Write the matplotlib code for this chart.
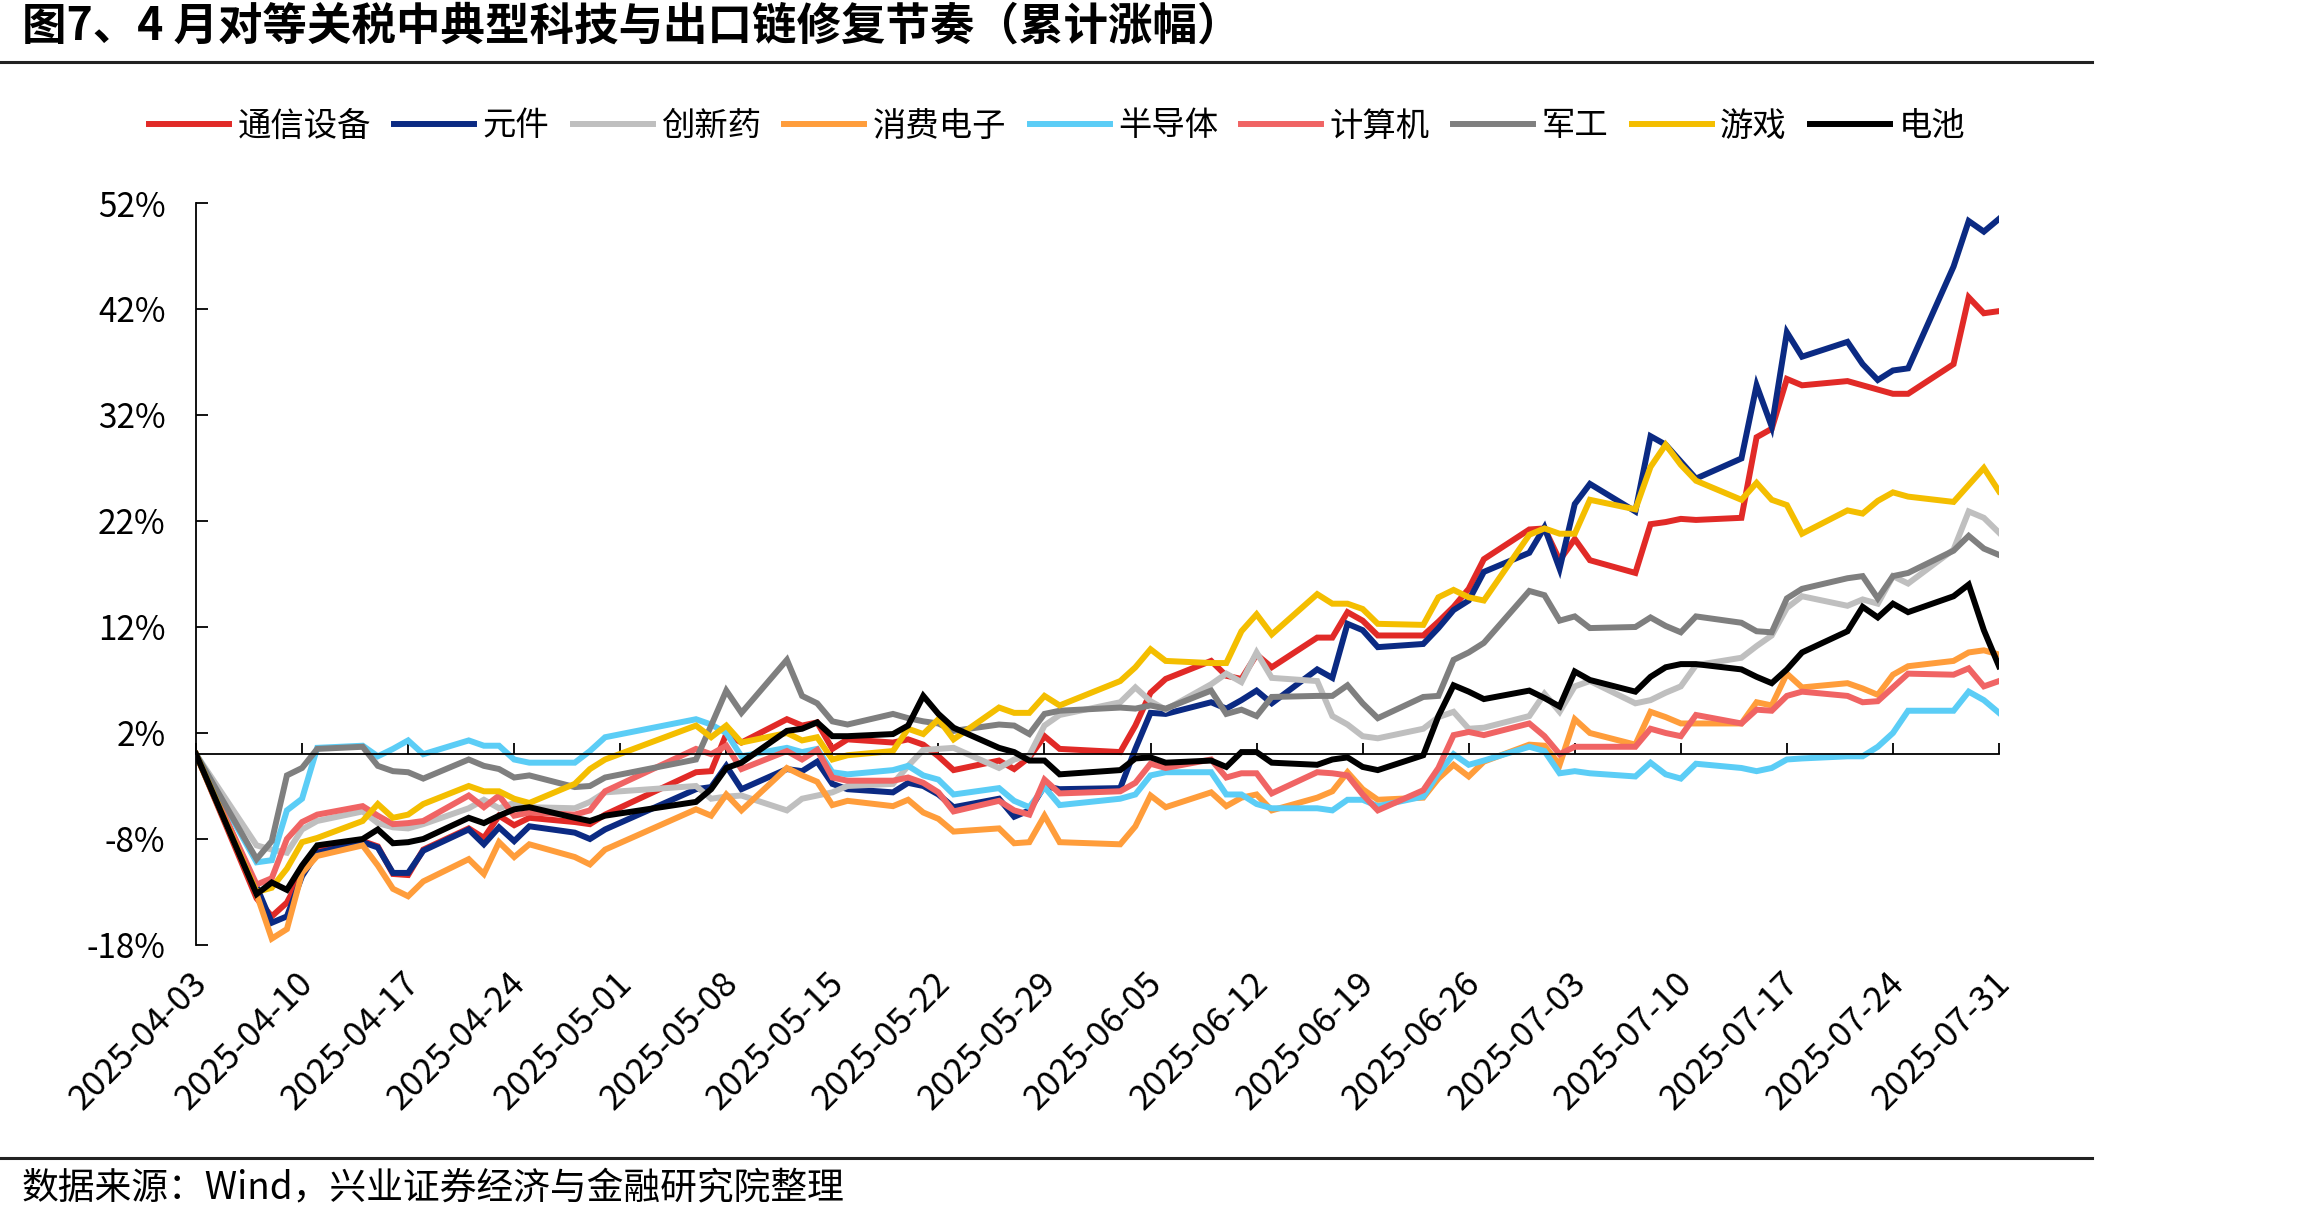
import pandas as pd
import matplotlib
matplotlib.use("Agg")
import matplotlib.pyplot as plt
import matplotlib.transforms as mtransforms
from matplotlib.lines import Line2D

plt.rcParams['font.family'] = ['Noto Sans CJK SC', 'DejaVu Sans']

# trading days, 2025-04-03 .. 2025-07-31
dates = [
    "2025-04-03", "2025-04-07", "2025-04-08", "2025-04-09", "2025-04-10", "2025-04-11",
    "2025-04-14", "2025-04-15", "2025-04-16", "2025-04-17", "2025-04-18",
    "2025-04-21", "2025-04-22", "2025-04-23", "2025-04-24", "2025-04-25",
    "2025-04-28", "2025-04-29", "2025-04-30",
    "2025-05-06", "2025-05-07", "2025-05-08", "2025-05-09",
    "2025-05-12", "2025-05-13", "2025-05-14", "2025-05-15", "2025-05-16",
    "2025-05-19", "2025-05-20", "2025-05-21", "2025-05-22", "2025-05-23",
    "2025-05-26", "2025-05-27", "2025-05-28", "2025-05-29", "2025-05-30",
    "2025-06-03", "2025-06-04", "2025-06-05", "2025-06-06",
    "2025-06-09", "2025-06-10", "2025-06-11", "2025-06-12", "2025-06-13",
    "2025-06-16", "2025-06-17", "2025-06-18", "2025-06-19", "2025-06-20",
    "2025-06-23", "2025-06-24", "2025-06-25", "2025-06-26", "2025-06-27",
    "2025-06-30", "2025-07-01", "2025-07-02", "2025-07-03", "2025-07-04",
    "2025-07-07", "2025-07-08", "2025-07-09", "2025-07-10", "2025-07-11",
    "2025-07-14", "2025-07-15", "2025-07-16", "2025-07-17", "2025-07-18",
    "2025-07-21", "2025-07-22", "2025-07-23", "2025-07-24", "2025-07-25",
    "2025-07-28", "2025-07-29", "2025-07-30", "2025-07-31",
]

tongxin = [0, -13.6, -15.3, -14.0, -11.3, -9.0, -8.2, -8.7, -11.3, -11.4, -9.0,
           -7.0, -7.9, -5.8, -6.7, -6.0, -6.4, -6.6, -5.7, -1.7, -1.6, 1.9, 1.1,
           3.3, 2.7, 3.0, 0.5, 1.4, 1.1, 1.4, 0.9, -0.2, -1.5, -0.6, -1.4, -0.3, 1.7, 0.5,
           0.2, 2.7, 5.8, 7.1, 8.8, 7.4, 7.1, 9.4, 8.2, 11.0, 11.0, 13.4, 12.6, 11.2,
           11.2, 12.5, 13.9, 15.6, 18.4, 21.2, 21.3, 18.3, 20.3, 18.3,
           17.1, 21.7, 21.9, 22.2, 22.1, 22.3, 29.9, 30.7, 35.4, 34.8,
           35.2, 34.8, 34.4, 34.0, 34.0, 36.8, 43.1, 41.6, 41.8]
yuanjian = [0, -12.5, -15.9, -15.3, -11.5, -9.3, -8.3, -8.8, -11.2, -11.2, -9.1,
            -7.1, -8.5, -6.9, -8.2, -6.8, -7.4, -8.0, -7.1, -3.3, -3.1, -1.1, -3.3,
            -1.4, -1.6, -0.7, -2.8, -3.3, -3.6, -2.7, -3.0, -3.8, -5.0, -4.2, -5.9, -5.3, -3.0, -3.3,
            -3.2, 0.5, 3.9, 3.8, 4.9, 4.3, 5.1, 6.0, 4.8, 8.0, 7.2, 12.3, 11.7, 10.1,
            10.4, 11.9, 13.6, 14.5, 17.2, 19.0, 21.4, 17.5, 23.6, 25.5,
            22.9, 30.0, 29.2, 27.6, 26.0, 27.9, 34.8, 30.9, 39.8, 37.5,
            38.9, 36.8, 35.3, 36.2, 36.4, 46.0, 50.3, 49.3, 50.5]
chuangxinyao = [0, -8.6, -9.0, -9.3, -7.1, -6.3, -5.4, -6.5, -6.9, -7.0, -6.6,
                -5.1, -4.3, -5.1, -4.6, -5.0, -5.1, -4.5, -3.6, -3.0, -4.2, -4.0, -3.9,
                -5.3, -4.2, -3.9, -3.6, -3.0, -2.8, -1.1, 0.4, 0.5, 0.6, -1.3, -0.5, -0.1, 2.7, 3.7,
                4.9, 6.3, 5.0, 4.2, 6.6, 7.6, 6.8, 9.6, 7.2, 6.9, 3.6, 2.8, 1.7, 1.5,
                2.4, 3.5, 4.0, 2.4, 2.5, 3.6, 5.7, 4.0, 6.4, 6.9,
                4.8, 5.1, 5.8, 6.4, 8.4, 9.1, 10.2, 11.2, 13.8, 14.9,
                14.0, 14.6, 14.2, 16.8, 16.1, 19.3, 22.9, 22.3, 20.9]
xiaofei = [0, -13.2, -17.4, -16.5, -11.2, -9.6, -8.6, -10.5, -12.7, -13.4, -12.0,
           -9.9, -11.3, -8.3, -9.7, -8.5, -9.7, -10.4, -9.0, -5.2, -5.8, -3.8, -5.3,
           -1.3, -2.0, -2.6, -4.8, -4.4, -4.9, -4.3, -5.5, -6.1, -7.3, -7.0, -8.4, -8.3, -5.8, -8.3,
           -8.5, -6.8, -3.9, -5.0, -3.6, -4.9, -4.1, -3.8, -5.3, -4.1, -3.5, -1.7, -3.3, -4.3,
           -4.1, -2.3, -1.0, -2.1, -0.7, 0.9, 0.8, -1.0, 3.3, 2.0,
           0.9, 4.0, 3.5, 2.9, 2.9, 2.9, 4.9, 4.6, 7.6, 6.3,
           6.7, 6.2, 5.6, 7.5, 8.3, 8.8, 9.6, 9.8, 9.4]
bandaoti = [0, -10.2, -10.0, -5.3, -4.2, 0.6, 0.8, -0.2, 0.5, 1.3, 0.0,
            1.3, 0.8, 0.8, -0.5, -0.8, -0.8, 0.3, 1.6, 3.3, 2.8, 2.0, -0.2,
            0.6, 0.2, 0.5, -1.7, -1.9, -1.5, -1.1, -2.0, -2.4, -3.8, -3.2, -4.4, -5.0, -3.1, -4.8,
            -4.2, -3.8, -2.0, -1.7, -1.7, -3.8, -3.8, -4.7, -5.1, -5.1, -5.3, -4.3, -4.3, -4.9,
            -4.0, -1.8, 0.0, -1.0, -0.6, 0.7, 0.3, -1.8, -1.6, -1.8,
            -2.1, -0.8, -1.9, -2.3, -0.9, -1.3, -1.6, -1.3, -0.5, -0.4,
            -0.2, -0.2, 0.7, 2.0, 4.1, 4.1, 5.9, 5.1, 3.9]
jisuanji = [0, -12.3, -11.7, -8.0, -6.4, -5.7, -4.9, -5.8, -6.6, -6.5, -6.3,
            -3.9, -5.0, -3.9, -5.8, -5.5, -5.7, -5.3, -3.5, 0.5, 0.0, 0.8, -1.4,
            0.3, -0.5, 0.4, -2.2, -2.5, -2.5, -2.2, -2.7, -3.6, -5.4, -4.4, -5.3, -5.7, -2.4, -3.7,
            -3.5, -2.7, -0.9, -1.3, -0.5, -2.2, -1.8, -1.8, -3.7, -1.7, -1.8, -2.0, -3.8, -5.3,
            -3.4, -1.3, 1.8, 2.1, 1.8, 2.9, 1.7, 0.0, 0.7, 0.7,
            0.7, 2.4, 2.0, 1.7, 3.7, 2.9, 4.2, 4.1, 5.5, 5.9,
            5.5, 4.9, 5.0, 6.3, 7.6, 7.5, 8.1, 6.4, 6.9]
jungong = [0, -9.9, -8.2, -2.0, -1.3, 0.5, 0.7, -1.1, -1.6, -1.7, -2.3,
           -0.5, -1.1, -1.4, -2.2, -2.0, -3.1, -3.0, -2.2, -0.5, 2.7, 6.0, 3.9,
           8.9, 5.5, 4.8, 3.1, 2.8, 3.8, 3.4, 3.1, 2.9, 2.2, 2.8, 2.7, 1.9, 3.8, 4.1,
           4.4, 4.3, 4.6, 4.3, 6.0, 3.8, 4.2, 3.6, 5.4, 5.5, 5.5, 6.5, 4.8, 3.4,
           5.4, 5.5, 8.9, 9.6, 10.5, 15.4, 15.0, 12.6, 13.0, 11.9,
           12.0, 12.9, 12.1, 11.5, 13.0, 12.4, 11.6, 11.5, 14.7, 15.6,
           16.6, 16.8, 14.7, 16.8, 17.1, 19.2, 20.6, 19.4, 18.8]
youxi = [0, -13.0, -12.6, -10.8, -8.3, -7.9, -6.3, -4.7, -6.0, -5.7, -4.7,
         -3.0, -3.5, -3.5, -4.2, -4.6, -2.8, -1.4, -0.5, 2.7, 1.6, 2.7, 1.1,
         2.0, 1.3, 1.6, -0.5, -0.1, 0.3, 2.4, 1.9, 3.3, 1.4, 4.4, 3.9, 3.9, 5.5, 4.6,
         6.9, 8.2, 9.9, 8.8, 8.6, 8.6, 11.6, 13.2, 11.3, 15.1, 14.2, 14.2, 13.7, 12.3,
         12.2, 14.8, 15.5, 14.8, 14.5, 20.7, 21.3, 20.8, 20.8, 24.0,
         23.1, 27.1, 29.2, 27.3, 25.8, 24.0, 25.6, 24.0, 23.5, 20.8,
         23.0, 22.7, 23.9, 24.7, 24.3, 23.8, 25.4, 27.0, 24.8]
dianchi = [0, -13.2, -12.1, -12.8, -10.5, -8.6, -8.0, -7.1, -8.4, -8.3, -8.0,
           -6.0, -6.5, -5.8, -5.2, -5.0, -6.0, -6.3, -5.8, -4.5, -3.3, -1.3, -0.8,
           2.2, 2.4, 3.0, 1.7, 1.7, 1.9, 2.7, 5.5, 3.8, 2.5, 0.6, 0.2, -0.6, -0.6, -1.9,
           -1.5, -0.4, -0.3, -0.8, -0.6, -1.2, 0.2, 0.2, -0.8, -1.0, -0.5, -0.3, -1.2, -1.5,
           -0.1, 3.6, 6.5, 5.9, 5.2, 6.0, 5.3, 4.5, 7.8, 7.0,
           5.9, 7.3, 8.2, 8.5, 8.5, 8.0, 7.3, 6.7, 8.0, 9.6,
           11.6, 13.9, 12.9, 14.2, 13.4, 14.9, 16.0, 11.7, 8.3]

names = ["通信设备", "元件", "创新药", "消费电子", "半导体", "计算机", "军工", "游戏", "电池"]
series = [tongxin, yuanjian, chuangxinyao, xiaofei, bandaoti, jisuanji, jungong, youxi, dianchi]
colors = ["#E12A27", "#0B2A83", "#BFBFBF", "#FF9D3B", "#5BCDF6", "#F06464", "#7F7F7F", "#F4BE00", "#000000"]

yticks = [-18, -8, 2, 12, 22, 32, 42, 52]
tick_dates = ["2025-04-03", "2025-04-10", "2025-04-17", "2025-04-24", "2025-05-01", "2025-05-08",
              "2025-05-15", "2025-05-22", "2025-05-29", "2025-06-05", "2025-06-12", "2025-06-19",
              "2025-06-26", "2025-07-03", "2025-07-10", "2025-07-17", "2025-07-24", "2025-07-31"]

title = "图7、4 月对等关税中典型科技与出口链修复节奏（累计涨幅）"
source = "数据来源：Wind，兴业证券经济与金融研究院整理"

W, H = 2310, 1220
fig = plt.figure(figsize=(W / 100, H / 100), dpi=100)
x = pd.to_datetime(dates)
tx = pd.to_datetime(tick_dates)

ax = fig.add_axes([196 / W, 275 / H, (1999 - 196) / W, (1017 - 275) / H])
handles = []
for vals, name, c in zip(series, names, colors):
    h, = ax.plot(x, vals, color=c, lw=4.3, label=name, solid_joinstyle='miter')
    handles.append(h)

ax.set_xlim(tx[0], tx[-1])
ax.set_ylim(-18, 52)
ax.spines['top'].set_visible(False)
ax.spines['right'].set_visible(False)
ax.spines['bottom'].set_position(('data', 0))
ax.spines['bottom'].set_linewidth(1.3)
ax.spines['left'].set_linewidth(1.3)

ax.set_yticks(yticks)
ax.set_yticklabels([f"{v}%" for v in yticks])
ax.tick_params(axis='y', direction='in', length=8.5, width=1.3, labelsize=24, pad=22)
ax.set_xticks(tx)
ax.tick_params(axis='x', direction='in', length=8, width=1.3, labelbottom=False)

trans = mtransforms.blended_transform_factory(ax.transData, ax.transAxes)
trans = mtransforms.offset_copy(trans, fig=fig, x=-6, y=-21, units='dots')
for t, lab in zip(tx, tick_dates):
    ax.text(t, 0, lab, transform=trans, rotation=45, rotation_mode='anchor',
            ha='right', va='top', fontsize=25)

fig.legend(handles=handles, labels=names, loc='center', bbox_to_anchor=(1057 / W, 1 - 126 / H),
           ncol=9, frameon=False, fontsize=24, handlelength=2.4, handletextpad=0.25,
           columnspacing=0.7)

fig.text(22 / W, 1 - 27 / H, title, fontsize=32, fontweight='bold', va='center', ha='left')
fig.add_artist(Line2D([0, 2092 / W], [1 - 62 / H] * 2, color='#222222', lw=2.2))
fig.add_artist(Line2D([0, 2092 / W], [1 - 1158 / H] * 2, color='#222222', lw=2.2))
fig.text(22 / W, 1 - 1188 / H, source, fontsize=26.5, va='center', ha='left')

fig.savefig("out.png", dpi=100)
